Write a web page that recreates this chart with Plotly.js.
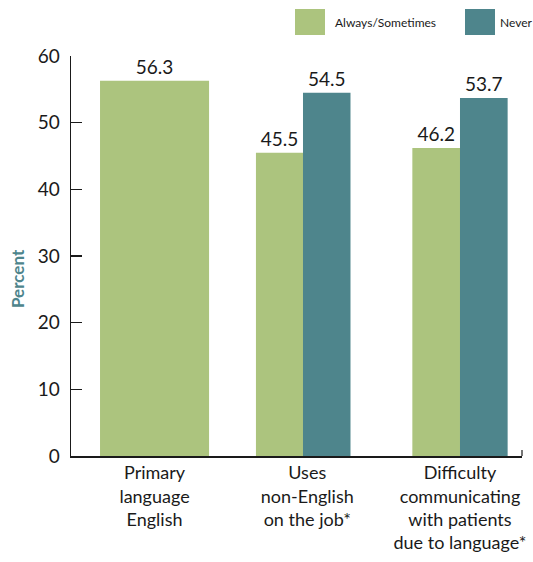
<!DOCTYPE html>
<html>
<head>
<meta charset="utf-8">
<script src="https://cdn.plot.ly/plotly-3.0.1.min.js"></script>
<style>
  html, body { margin: 0; padding: 0; background: #ffffff; }
  #chart { width: 533px; height: 562px; }
</style>
</head>
<body>
<div id="chart"></div>
<script>
// Categories and survey percentages
const categories = [
  "Primary<br>language<br>English",
  "Uses<br>non-English<br>on the job*",
  "Difficulty<br>communicating<br>with patients<br>due to language*"
];
const alwaysCats = [categories[0], categories[1], categories[2]];
const alwaysValues = [56.3, 45.5, 46.2];
const neverCats = [categories[1], categories[2]];
const neverValues = [54.5, 53.7];
const yTicks = [0, 10, 20, 30, 40, 50, 60];

const GREEN = "#acc47e";
const TEAL = "#4e858c";
const FONT = "Lato, 'Open Sans', sans-serif";

const traces = [
  {
    type: "bar",
    name: "Always/Sometimes",
    x: alwaysCats,
    y: alwaysValues,
    width: [0.714, 0.308, 0.312],
    offset: [-0.357, -0.336, -0.312],
    marker: { color: GREEN },
    text: alwaysValues.map(v => v.toFixed(1)),
    textposition: "outside",
    textfont: { family: FONT, size: 19, color: "#1a1a1a" },
    cliponaxis: false,
    hoverinfo: "x+y"
  },
  {
    type: "bar",
    name: "Never",
    x: neverCats,
    y: neverValues,
    width: [0.311, 0.312],
    offset: [-0.028, 0],
    marker: { color: TEAL },
    text: neverValues.map(v => v.toFixed(1)),
    textposition: "outside",
    textfont: { family: FONT, size: 19, color: "#1a1a1a" },
    cliponaxis: false,
    hoverinfo: "x+y"
  }
];

const layout = {
  width: 533,
  height: 562,
  margin: { l: 71, r: 11, t: 56, b: 106 },
  paper_bgcolor: "#ffffff",
  plot_bgcolor: "#ffffff",
  barmode: "overlay",
  showlegend: false,
  font: { family: FONT, color: "#1a1a1a" },
  xaxis: {
    type: "category",
    range: [-0.547, 2.406],
    showline: true,
    linecolor: "#1a1a1a",
    linewidth: 1.5,
    ticks: "",
    showgrid: false,
    zeroline: false,
    tickfont: { family: FONT, size: 18, color: "#1a1a1a" },
    fixedrange: true
  },
  yaxis: {
    range: [0, 60],
    tickvals: yTicks,
    ticktext: yTicks.map(String),
    showline: true,
    linecolor: "#1a1a1a",
    linewidth: 1.5,
    ticks: "inside",
    ticklen: 11,
    tickwidth: 1.2,
    tickcolor: "#1a1a1a",
    showgrid: false,
    zeroline: false,
    tickfont: { family: FONT, size: 19, color: "#1a1a1a" },
    ticklabelstandoff: 6,
    fixedrange: true
  },
  shapes: [
    // small end tick on the right of the baseline
    { type: "line", xref: "paper", yref: "paper", x0: 1, x1: 1, y0: 0, y1: 0.015,
      line: { color: "#1a1a1a", width: 1.2 } },
    // legend swatches
    { type: "rect", xref: "paper", yref: "paper",
      x0: (295 - 71) / 451, x1: (325 - 71) / 451, y0: (456 - 35) / 400, y1: (456 - 9) / 400,
      fillcolor: GREEN, line: { width: 0 } },
    { type: "rect", xref: "paper", yref: "paper",
      x0: (465 - 71) / 451, x1: (495 - 71) / 451, y0: (456 - 35) / 400, y1: (456 - 9) / 400,
      fillcolor: TEAL, line: { width: 0 } }
  ],
  annotations: [
    // y-axis title
    { xref: "paper", yref: "paper", x: (17 - 71) / 451, y: (456 - 279) / 400,
      xanchor: "center", yanchor: "middle", showarrow: false, textangle: -90,
      text: "<b>Percent</b>", font: { family: FONT, size: 17, color: TEAL } },
    // legend labels
    { xref: "paper", yref: "paper", x: (333 - 71) / 451, y: (456 - 22) / 400,
      xanchor: "left", yanchor: "middle", showarrow: false,
      text: "Always/Sometimes", font: { family: FONT, size: 12, color: "#1a1a1a" } },
    { xref: "paper", yref: "paper", x: (498 - 71) / 451, y: (456 - 22) / 400,
      xanchor: "left", yanchor: "middle", showarrow: false,
      text: "Never", font: { family: FONT, size: 12, color: "#1a1a1a" } }
  ]
};

Plotly.newPlot("chart", traces, layout, { displayModeBar: false, staticPlot: true });
</script>
</body>
</html>
